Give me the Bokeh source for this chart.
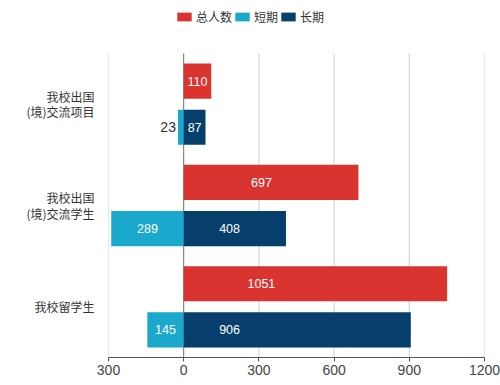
from bokeh.plotting import figure
from bokeh.models import ColumnDataSource, Legend, LegendItem, FixedTicker
from bokeh.embed import file_html
from bokeh.resources import INLINE
from bokeh.core.properties import value

# ---- data ----
categories = ["我校出国\n(境)交流项目", "我校出国\n(境)交流学生", "我校留学生"]
total = [110, 697, 1051]
short_term = [23, 289, 145]
long_term = [87, 408, 906]
series_names = ["总人数", "短期", "长期"]
x_ticks = [-300, 0, 300, 600, 900, 1200]
x_tick_labels = ["300", "0", "300", "600", "900", "1200"]

# ---- style ----
colors = ["#DA3431", "#1BA8CD", "#073F6C"]
offset = 0.228
bar_h = 0.347
label_cap_total = 310
label_cap_long = 183
outside_threshold = 60
num_font = "Liberation Sans"
cjk_font = "Noto Sans CJK SC"
top_pad = 0.523   # room above the bars for the legend

n = len(categories)
centers = [n - 0.5 - i for i in range(n)]

src = ColumnDataSource(dict(
    y_tot=[c + offset for c in centers],
    y_sub=[c - offset for c in centers],
    total=total,
    short_neg=[-v for v in short_term],
    long=long_term,
    tot_lbl=[str(v) for v in total],
    long_lbl=[str(v) for v in long_term],
    tot_x=[min(v / 2, label_cap_total) for v in total],
    long_x=[min(v / 2, label_cap_long) for v in long_term],
))

p = figure(width=500, height=385, x_range=(-300, 1200), y_range=(0, n + top_pad),
           output_backend="svg", toolbar_location=None,
           min_border_left=108, min_border_right=16, min_border_top=0,
           min_border_bottom=28)
p.outline_line_color = None
p.background_fill_color = "white"
p.border_fill_color = "white"
p.xgrid.grid_line_color = None
p.ygrid.grid_line_color = None

# vertical grid lines (only over the bar area)
grid_x = [t for t in x_ticks if t != 0]
p.segment(x0=grid_x, y0=[0] * len(grid_x), x1=grid_x, y1=[n] * len(grid_x),
          line_color="#cfcfcf", line_width=1)
p.segment(x0=[0], y0=[0], x1=[0], y1=[n], line_color="#6e6e6e", line_width=1)

r_tot = p.hbar(y="y_tot", left=0, right="total", height=bar_h, source=src,
               fill_color=colors[0], line_color=None)
r_short = p.hbar(y="y_sub", left="short_neg", right=0, height=bar_h, source=src,
                 fill_color=colors[1], line_color=None)
r_long = p.hbar(y="y_sub", left=0, right="long", height=bar_h, source=src,
                fill_color=colors[2], line_color=None)

# labels
p.text(x="tot_x", y="y_tot", text="tot_lbl", source=src, text_color="white",
       text_font=value(num_font), text_font_size="12.5px", text_align="center",
       text_baseline="middle")
p.text(x="long_x", y="y_sub", text="long_lbl", source=src, text_color="white",
       text_font=value(num_font), text_font_size="12.5px", text_align="center",
       text_baseline="middle")

in_x, in_y, in_t, out_x, out_y, out_t = [], [], [], [], [], []
for c, v in zip(centers, short_term):
    if v >= outside_threshold:
        in_x.append(-v / 2); in_y.append(c - offset); in_t.append(str(v))
    else:
        out_x.append(-v); out_y.append(c - offset); out_t.append(str(v))
p.text(x=in_x, y=in_y, text=in_t, text_color="white", text_font=value(num_font),
       text_font_size="12.5px", text_align="center", text_baseline="middle")
p.text(x=out_x, y=out_y, text=out_t, text_color="#333333", text_font=value(num_font),
       text_font_size="14px", text_align="right", text_baseline="middle", x_offset=-2)

# axes
p.xaxis.ticker = FixedTicker(ticks=x_ticks)
p.xaxis.major_label_overrides = {t: l for t, l in zip(x_ticks, x_tick_labels)}
p.xaxis.axis_line_color = "#555555"
p.xaxis.major_tick_line_color = "#555555"
p.xaxis.major_tick_in = 0
p.xaxis.major_tick_out = 4
p.xaxis.minor_tick_line_color = None
p.xaxis.major_label_text_font = num_font
p.xaxis.major_label_text_font_size = "14px"
p.xaxis.major_label_text_color = "#444444"
p.xaxis.major_label_standoff = 3

p.yaxis.ticker = FixedTicker(ticks=centers)
p.yaxis.major_label_overrides = {c: lab for c, lab in zip(centers, categories)}
p.yaxis.axis_line_color = None
p.yaxis.major_tick_line_color = None
p.yaxis.minor_tick_line_color = None
p.yaxis.major_label_text_font = cjk_font
p.yaxis.major_label_text_font_size = "12px"
p.yaxis.major_label_text_color = "#333333"
p.yaxis.major_label_text_line_height = 0.9
p.yaxis.major_label_standoff = 8

legend = Legend(items=[LegendItem(label=series_names[0], renderers=[r_tot]),
                       LegendItem(label=series_names[1], renderers=[r_short]),
                       LegendItem(label=series_names[2], renderers=[r_long])],
                orientation="horizontal", location=(67, 332),
                glyph_width=18, glyph_height=11, label_standoff=3, spacing=1,
                padding=0, margin=0, border_line_color=None,
                background_fill_alpha=0, label_text_font=cjk_font,
                label_text_font_size="12px", label_text_color="#333333",
                label_height=12)
p.add_layout(legend)

open("out.html", "w").write(file_html(p, INLINE))
